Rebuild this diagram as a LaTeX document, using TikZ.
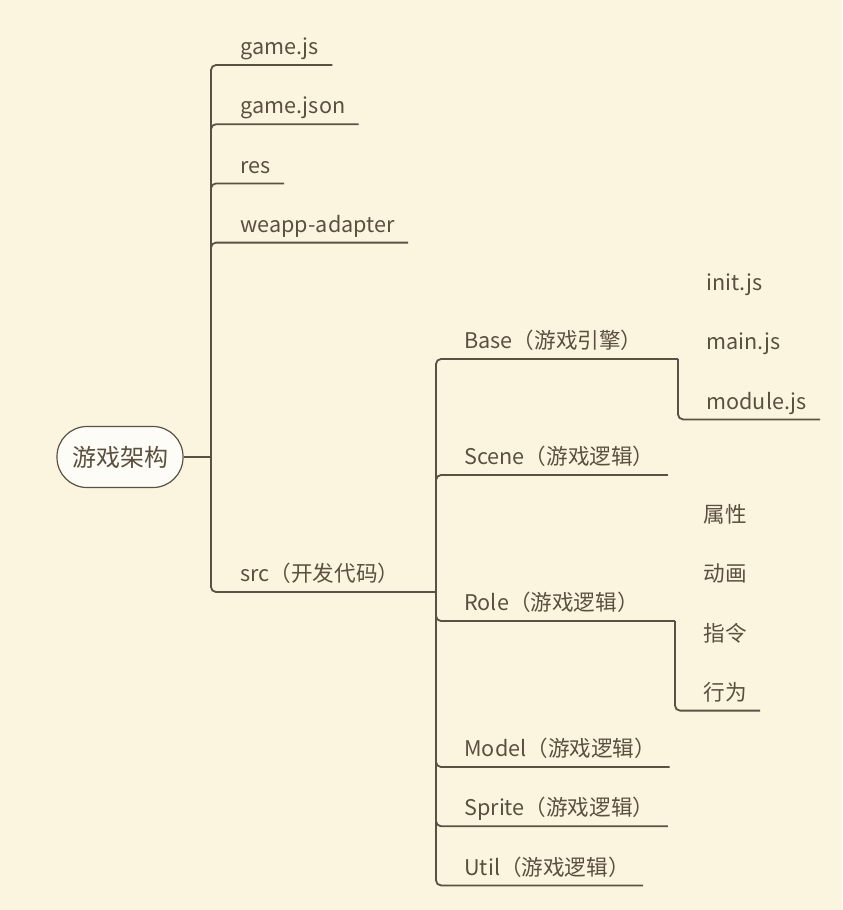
\documentclass[tikz,border=0pt]{standalone}
\usepackage{fontspec}
\setmainfont{Noto Sans CJK SC}
\usepackage{tikz}
\usetikzlibrary{positioning}
\definecolor{paper}{HTML}{FBF5E0}
\definecolor{ink}{HTML}{5B4F3E}
\definecolor{twig}{HTML}{5A5144}
\tikzset{
  rootbox/.style={
    rectangle, rounded corners=15pt, draw=twig, fill=white!75!paper,
    line width=0.6pt, minimum width=63pt, minimum height=30.5pt,
    font=\fontsize{12}{14}\selectfont, text=ink, inner sep=0pt
  },
  topic/.style={
    anchor=south west, inner xsep=6.5pt, inner ysep=0pt,
    text height=11pt, text depth=5pt,
    font=\fontsize{10.8}{13}\selectfont, text=ink
  },
  branch/.style={draw=twig, line width=0.9pt, rounded corners=2.5pt},
}

\begin{document}
\begin{tikzpicture}[x=0.5pt, y=-0.5pt, node distance=13.2pt]
    \fill[paper] (0,0) rectangle (842,910);
    % root and first level
    \node[rootbox] (root) at (120,457) {游戏架构};
    \coordinate (j0) at (211,457);
    \node[topic] (gamejs) at (227,65) {game.js};
    \node[topic, below=of gamejs.south west, anchor=north west] (gamejson) {game.json};
    \node[topic, below=of gamejson.south west, anchor=north west] (res) {res};
    \node[topic, below=of res.south west, anchor=north west] (weapp) {weapp-adapter};
    \node[topic] (src) at (227,592) {src（开发代码）};
    % second level
    \coordinate (j1) at (436,592);
    \node[topic] (base) at (451,359) {Base（游戏引擎）};
    \node[topic] (scene) at (451,475) {Scene（游戏逻辑）};
    \node[topic] (role) at (451,621) {Role（游戏逻辑）};
    \node[topic] (model) at (451,767) {Model（游戏逻辑）};
    \node[topic, below=of model.south west, anchor=north west] (sprite) {Sprite（游戏逻辑）};
    \node[topic, below=of sprite.south west, anchor=north west] (util) {Util（游戏逻辑）};
    % third level
    \coordinate (j2) at (678,359);
    \node[topic] (initjs) at (693,301) {init.js};
    \node[topic, below=of initjs.south west, anchor=north west] (mainjs) {main.js};
    \node[topic, below=of mainjs.south west, anchor=north west] (modulejs) {module.js};
    \coordinate (j3) at (675,621);
    \node[topic] (shuxing) at (690,533) {属性};
    \node[topic, below=of shuxing.south west, anchor=north west] (donghua) {动画};
    \node[topic, below=of donghua.south west, anchor=north west] (zhiling) {指令};
    \node[topic, below=of zhiling.south west, anchor=north west] (xingwei) {行为};
    % connectors
    \draw[branch] (root) -- (j0);
    \foreach \n in {gamejs,gamejson,res,weapp}
        \draw[branch] (j0) |- (\n.south east);
    \draw[branch] (j0) |- (j1);
    \draw[branch] (j1) |- (j2);
    \draw[branch] (j2) |- (modulejs.south east);
    \foreach \n in {scene,model,sprite,util}
        \draw[branch] (j1) |- (\n.south east);
    \draw[branch] (j1) |- (j3);
    \draw[branch] (j3) |- (xingwei.south east);
\end{tikzpicture}
\end{document}
